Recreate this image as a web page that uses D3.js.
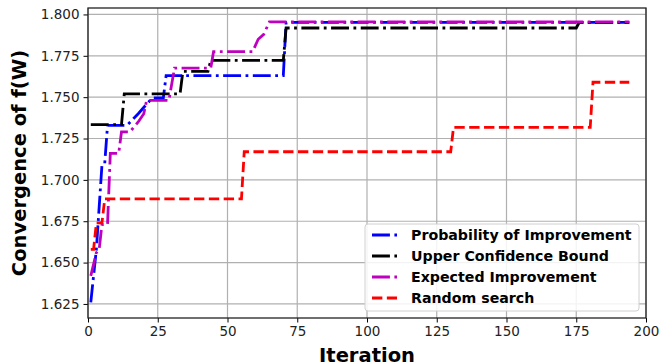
<!DOCTYPE html>
<html>
<head>
<meta charset="utf-8">
<script src="https://cdn.jsdelivr.net/npm/d3@7"></script>
<style>
  body { margin: 0; background: #fff; }
  svg { display: block; font-family: "DejaVu Sans", sans-serif; }
</style>
</head>
<body>
<div id="chart"></div>
<script>
// chart data (best-so-far per iteration)
const piIter = [1, 3, 5, 6, 7, 12, 14, 18, 23, 27, 28, 70, 71, 194];
const piVal  = [1.626, 1.658, 1.709, 1.710, 1.733, 1.733, 1.733, 1.740, 1.7495, 1.7495, 1.763, 1.763, 1.7952, 1.7952];

const ucbIter = [1, 12, 13, 33, 34, 43, 44, 70, 71, 175, 176, 194];
const ucbVal  = [1.7334, 1.7334, 1.752, 1.752, 1.7656, 1.7656, 1.7722, 1.7722, 1.7918, 1.7918, 1.795, 1.795];

const eiIter = [1, 3, 4, 5, 7, 8, 11, 12, 15, 18, 20, 21, 29, 31, 44, 45, 59, 61, 63, 65, 194];
const eiVal  = [1.642, 1.656, 1.658, 1.673, 1.673, 1.716, 1.716, 1.729, 1.729, 1.735, 1.740, 1.748, 1.748, 1.7676, 1.7676, 1.7775, 1.7775, 1.785, 1.788, 1.7955, 1.7955];

const rsIter = [1, 2, 3, 5, 6, 55, 56, 130, 131, 180, 181, 194];
const rsVal  = [1.658, 1.658, 1.674, 1.674, 1.6885, 1.6885, 1.717, 1.717, 1.7317, 1.7317, 1.759, 1.759];

const seriesNames = ["Probability of Improvement", "Upper Confidence Bound", "Expected Improvement", "Random search"];
const xTicks = [0, 25, 50, 75, 100, 125, 150, 175, 200];
const yTicks = [1.625, 1.650, 1.675, 1.700, 1.725, 1.750, 1.775, 1.800];

const width = 660;
const height = 364;
const margin = { top: 8, right: 14, bottom: 46, left: 88 };
const innerW = width - margin.left - margin.right;
const innerH = height - margin.top - margin.bottom;

const lw = 2.8;
const dashDot = [6.4 * lw, 1.6 * lw, 1 * lw, 1.6 * lw].join(",");
const dashed = [3.7 * lw, 1.6 * lw].join(",");

const series = [
    { name: seriesNames[0], iter: piIter, val: piVal, color: "#0000ff", dash: dashDot },
    { name: seriesNames[1], iter: ucbIter, val: ucbVal, color: "#000000", dash: dashDot },
    { name: seriesNames[2], iter: eiIter, val: eiVal, color: "#bf00bf", dash: dashDot },
    { name: seriesNames[3], iter: rsIter, val: rsVal, color: "#ff0000", dash: dashed }
];

const x = d3.scaleLinear().domain([0, 200]).range([0, innerW]);
const y = d3.scaleLinear().domain([1.6165, 1.8039]).range([innerH, 0]);

const svg = d3.select("#chart").append("svg")
    .attr("width", width)
    .attr("height", height);

const g = svg.append("g").attr("transform", `translate(${margin.left},${margin.top})`);

// grid
g.append("g")
    .selectAll("line")
    .data(xTicks)
    .join("line")
    .attr("x1", d => x(d)).attr("x2", d => x(d))
    .attr("y1", 0).attr("y2", innerH)
    .attr("stroke", "#b0b0b0").attr("stroke-width", 1.2);

g.append("g")
    .selectAll("line")
    .data(yTicks)
    .join("line")
    .attr("x1", 0).attr("x2", innerW)
    .attr("y1", d => y(d)).attr("y2", d => y(d))
    .attr("stroke", "#b0b0b0").attr("stroke-width", 1.2);

// lines
const line = d3.line()
    .x(d => x(d[0]))
    .y(d => y(d[1]));

g.append("g")
    .selectAll("path")
    .data(series)
    .join("path")
    .attr("d", s => line(s.iter.map((it, i) => [it, s.val[i]])))
    .attr("fill", "none")
    .attr("stroke", s => s.color)
    .attr("stroke-width", lw)
    .attr("stroke-dasharray", s => s.dash);

// axes
const xAxis = g.append("g")
    .attr("transform", `translate(0,${innerH})`)
    .call(d3.axisBottom(x).tickValues(xTicks).tickFormat(d3.format("d")).tickSize(4.5).tickPadding(4));

const yAxis = g.append("g")
    .call(d3.axisLeft(y).tickValues(yTicks).tickFormat(d3.format(".3f")).tickSize(4.5).tickPadding(4));

[xAxis, yAxis].forEach(a => {
    a.select(".domain").remove();
    a.selectAll("text").attr("font-size", 13.5).attr("fill", "#222").attr("font-family", "DejaVu Sans");
    a.selectAll("line").attr("stroke", "#000").attr("stroke-width", 1);
});

// frame
g.append("rect")
    .attr("width", innerW).attr("height", innerH)
    .attr("fill", "none").attr("stroke", "#222").attr("stroke-width", 1.3);

// axis labels
svg.append("text")
    .attr("x", margin.left + innerW / 2)
    .attr("y", 362)
    .attr("text-anchor", "middle")
    .attr("font-size", 19.5).attr("font-weight", "bold")
    .text("Iteration");

svg.append("text")
    .attr("transform", `translate(26,${margin.top + innerH / 2}) rotate(-90)`)
    .attr("text-anchor", "middle")
    .attr("font-size", 19.5).attr("font-weight", "bold")
    .text("Convergence of f(W)");

// legend
const legend = svg.append("g").attr("transform", "translate(365,224)");
legend.append("rect")
    .attr("width", 274).attr("height", 87)
    .attr("rx", 3)
    .attr("fill", "#fff").attr("fill-opacity", 0.85)
    .attr("stroke", "#d0d0d0").attr("stroke-width", 1);

const items = legend.selectAll("g.item")
    .data(series)
    .join("g")
    .attr("class", "item")
    .attr("transform", (d, i) => `translate(0,${11 + i * 21})`);

items.append("line")
    .attr("x1", 7).attr("x2", 32)
    .attr("stroke", d => d.color)
    .attr("stroke-width", lw)
    .attr("stroke-dasharray", d => d.dash);

items.append("text")
    .attr("x", 46).attr("dy", "0.35em")
    .attr("font-size", 14.2).attr("font-weight", "bold")
    .text(d => d.name);
</script>
</body>
</html>
